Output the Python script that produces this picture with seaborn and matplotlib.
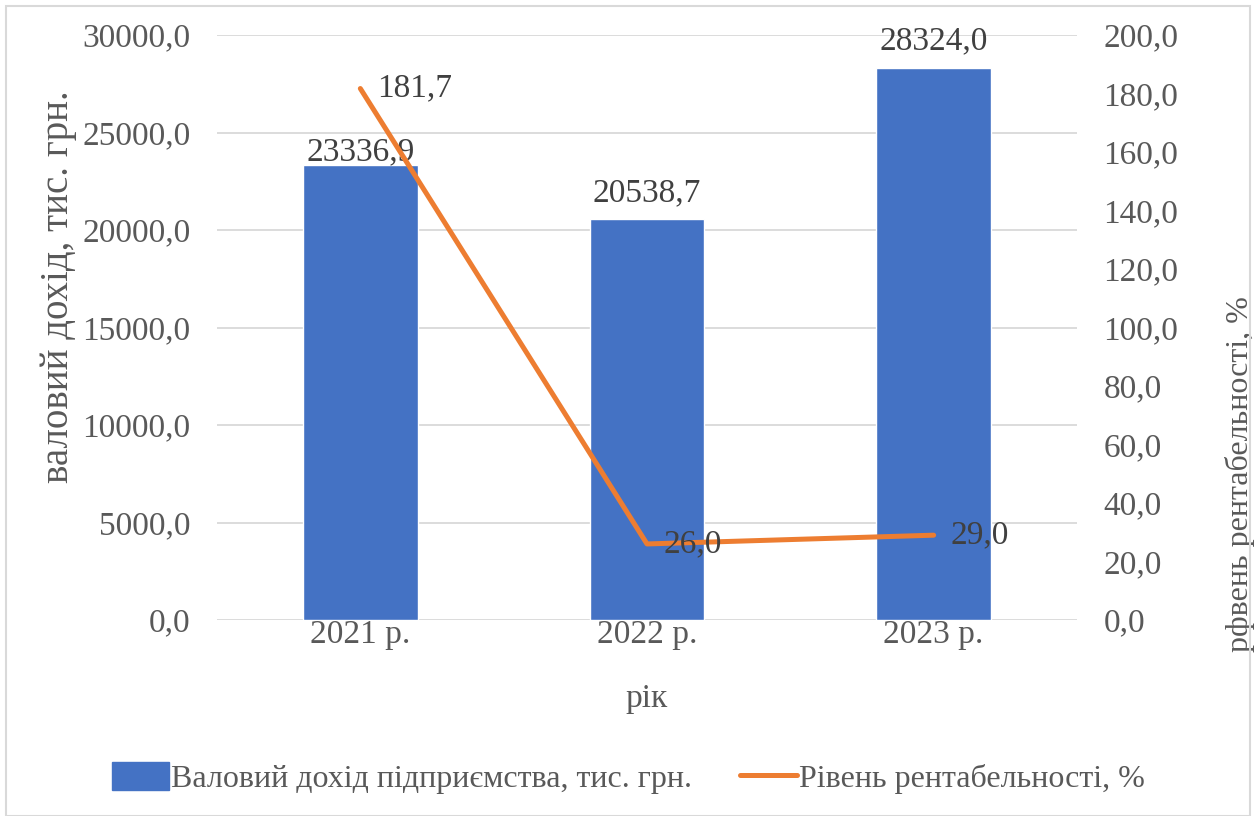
import numpy as np
import pandas as pd
import matplotlib.pyplot as plt
import seaborn as sns
from matplotlib.patches import Rectangle
from matplotlib.lines import Line2D

years = ['2021 р.', '2022 р.', '2023 р.']
income = [23336.9, 20538.7, 28324.0]
profitability = [181.7, 26.0, 29.0]

bar_color = '#4472C4'
line_color = '#ED7D31'
text_color = '#595959'
label_color = '#404040'

sns.set_theme(style='white')
plt.rcParams['font.family'] = ['Liberation Serif', 'DejaVu Serif']

df = pd.DataFrame({'year': years, 'income': income, 'profit': profitability})
df['pos'] = np.arange(len(years))

fs = 24
bar_label_dy = [-2, 8, 8]  # label offsets in points, as placed in the original

fig = plt.figure(figsize=(12.56, 8.16), dpi=100)
ax = fig.add_axes([217 / 1256, 1 - 620 / 816, 860 / 1256, 585 / 816])

sns.barplot(data=df, x='year', y='income', color=bar_color, width=0.4,
            saturation=1, ax=ax, zorder=2)
ax.set_ylim(0, 30000)
ax.set_yticks(np.arange(0, 30001, 5000))
ax.set_yticklabels([f'{v:.1f}'.replace('.', ',') for v in np.arange(0, 30001, 5000)])
ax.set_xlim(-0.5, 2.5)
ax.yaxis.grid(True, color='#d9d9d9', linewidth=1.3, zorder=0)
ax.set_axisbelow(True)
for s in ax.spines.values():
    s.set_visible(False)
ax.tick_params(axis='both', length=0, labelsize=fs, labelcolor=text_color)
ax.tick_params(axis='x', pad=0)
ax.tick_params(axis='y', pad=19)
ax.set_xlabel('рік', fontsize=fs, color=text_color, labelpad=24)
ax.set_ylabel('валовий дохід, тис. грн.', fontsize=28, color=text_color)
ax.yaxis.set_label_coords(-0.163, 0.57)

for i, v in enumerate(income):
    ax.annotate(f'{v:.1f}'.replace('.', ','), (i, v), xytext=(0, bar_label_dy[i]),
                textcoords='offset points', ha='center', va='bottom',
                fontsize=fs, color=label_color, zorder=5)

ax2 = ax.twinx()
sns.lineplot(data=df, x='pos', y='profit', color=line_color, linewidth=3.6,
             ax=ax2, zorder=3, solid_capstyle='round')
ax2.set_ylim(0, 200)
ax2.set_yticks(np.arange(0, 201, 20))
ax2.set_yticklabels([f'{v:.1f}'.replace('.', ',') for v in np.arange(0, 201, 20)])
ax2.set_xlim(-0.5, 2.5)
for s in ax2.spines.values():
    s.set_visible(False)
ax2.tick_params(axis='y', length=0, labelsize=fs, labelcolor=text_color, pad=19)
ax2.set_ylabel('рфвень рентабельності, %', fontsize=23, color=text_color)
ax2.yaxis.set_label_coords(1.172, 0.25)
ax2.set_xlabel('')

for i, v in enumerate(profitability):
    ax2.annotate(f'{v:.1f}'.replace('.', ','), (i, v), xytext=(12, 0), textcoords='offset points',
                 ha='left', va='center', fontsize=fs, color=label_color, zorder=5)

handles = [Rectangle((0, 0), 1, 1, color=bar_color),
           Line2D([0], [0], color=line_color, linewidth=3.6)]
fig.legend(handles, ['Валовий дохід підприємства, тис. грн.', 'Рівень рентабельності, %'],
           loc='center', bbox_to_anchor=(0.5, 1 - 778 / 816), ncol=2, frameon=False,
           fontsize=23, labelcolor=text_color, handlelength=1.8, handleheight=1.0,
           handletextpad=0.05, columnspacing=1.5)

fig.patches.append(Rectangle((6 / 1256, 0), 1244 / 1256, 1 - 6 / 816, transform=fig.transFigure,
                             fill=False, edgecolor='#d9d9d9', linewidth=1.5))

fig.savefig('out.png', dpi=100)
